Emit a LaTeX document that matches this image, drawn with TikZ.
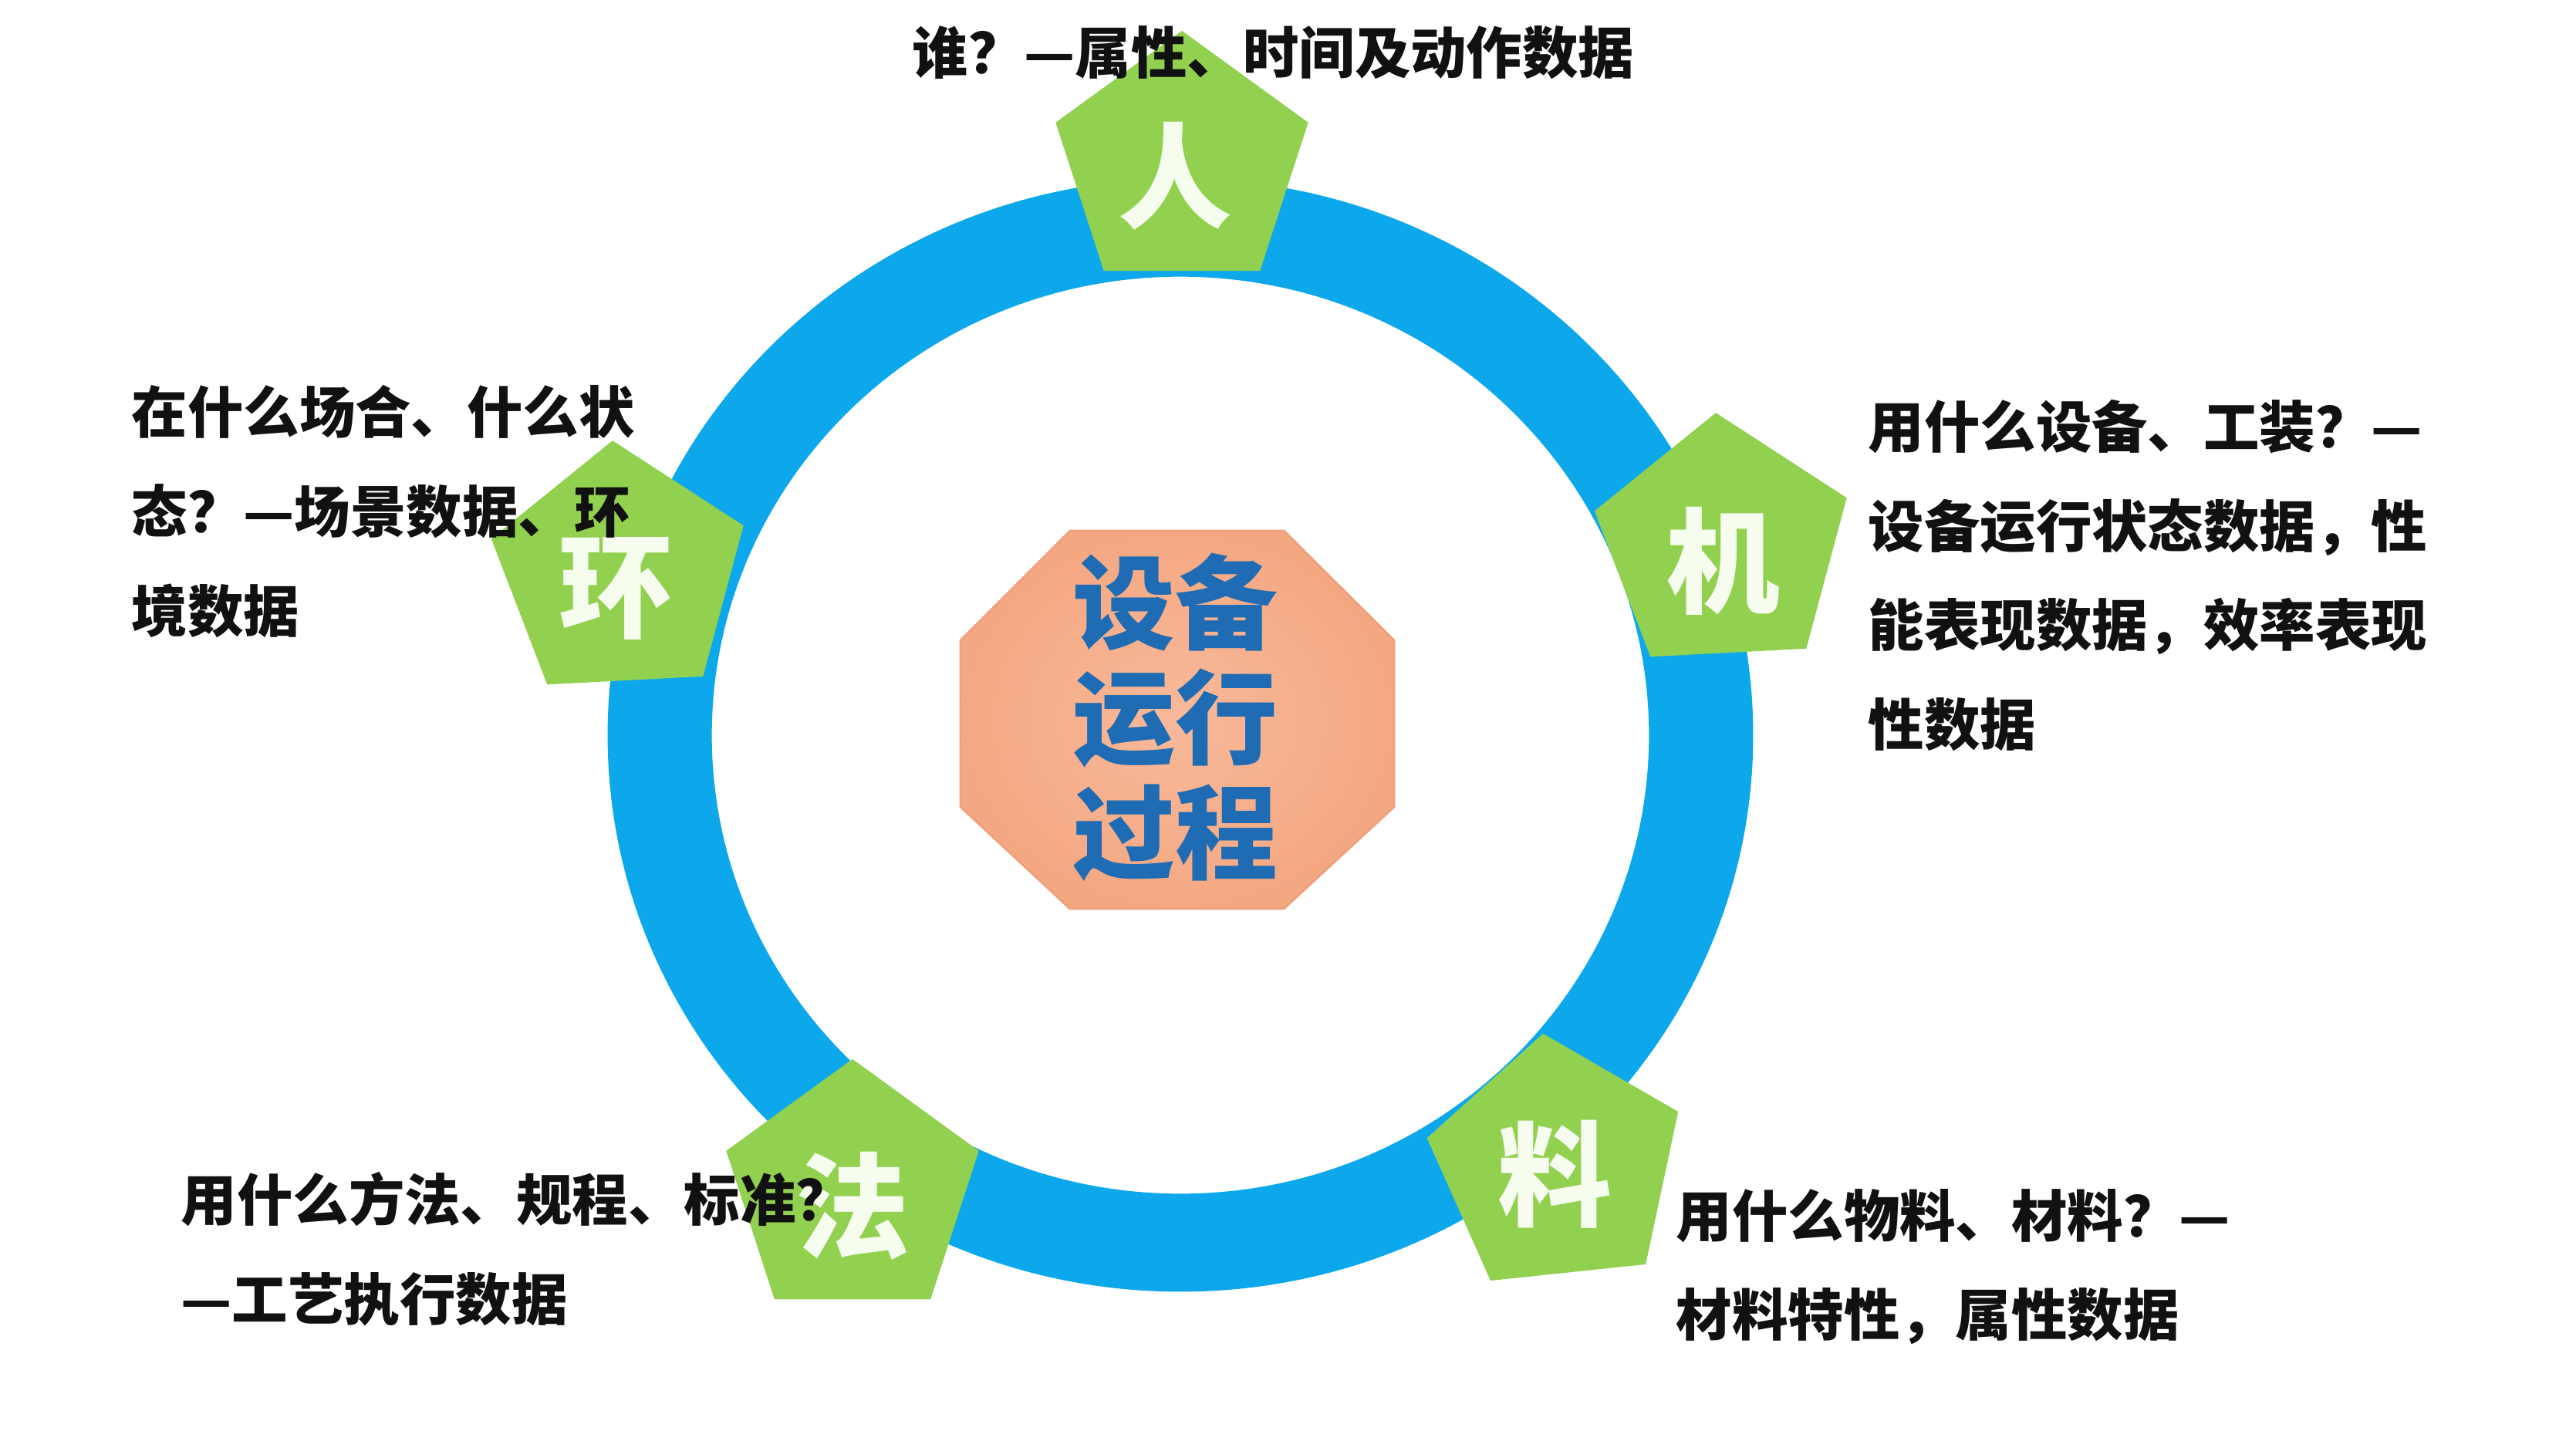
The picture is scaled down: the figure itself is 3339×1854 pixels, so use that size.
\documentclass[tikz,border=0pt]{standalone}
\usepackage{fontspec}
\newfontfamily\cjk{Noto Sans CJK SC}
\usetikzlibrary{shapes.geometric}
\definecolor{ringblue}{HTML}{0CA8EB}
\definecolor{pgreen}{HTML}{92D050}
\definecolor{octfill}{HTML}{F4A882}
\definecolor{octin}{HTML}{F8B99A}
\definecolor{octline}{HTML}{EFA07A}
\definecolor{coreblue}{HTML}{1F6CB4}
\definecolor{charwhite}{HTML}{F6FCEE}
\definecolor{inkblack}{HTML}{111111}
\begin{document}
\begin{tikzpicture}[x=0.01cm, y=-0.01cm,
  pent/.style={regular polygon, regular polygon sides=5, minimum size=3.44cm,
    inner sep=0pt, outer sep=0pt, fill=pgreen, draw=none},
  pchar/.style={font=\cjk\bfseries\fontsize{42pt}{42pt}\selectfont, text=charwhite, inner sep=0pt},
  infotext/.style={font=\cjk\bfseries\fontsize{20.6pt}{36.6pt}\selectfont, text=inkblack,
    align=left, inner sep=0pt, anchor=west},
  coretext/.style={font=\cjk\bfseries\fontsize{37.8pt}{42.4pt}\selectfont, text=coreblue,
    align=center, inner sep=0pt}]
\useasboundingbox (0,0) rectangle (3339,1854);
\fill[white] (0,0) rectangle (3339,1854);
% ring
\coordinate (ringc) at (1530,953);
\fill[ringblue, even odd rule] (ringc) ellipse [x radius=7.42cm, y radius=7.21cm]
  (ringc) ellipse [x radius=6.07cm, y radius=5.94cm];
% central octagon
\shadedraw[inner color=octin, outer color=octfill, draw=octline, line width=0.8pt]
  (1387,688) -- (1664,688) -- (1807,830) -- (1807,1046) -- (1664,1178)
  -- (1387,1178) -- (1245,1046) -- (1245,830) -- cycle;
\node[coretext] (coretxt) at (1523,930) {设备\\运行\\过程};
% pentagons
\node[pent, shape border rotate=0] (renP) at (1532,212) {};
\node[pchar] (ren) at (1523,228) {人};
\node[pent, shape border rotate=3] (jiP) at (2233,707) {};
\node[pchar] (ji) at (2233,727) {机};
\node[pent, shape border rotate=6] (liaoP) at (2018,1511) {};
\node[pchar] (liao) at (2015,1522) {料};
\node[pent, shape border rotate=0] (faP) at (1105,1545) {};
\node[pchar] (fa) at (1105,1563) {法};
\node[pent, shape border rotate=3] (huanP) at (803,743) {};
\node[pchar] (huan) at (798,763) {环};
% info texts
\node[infotext] (topinfo) at (1182,68) {谁？—属性、时间及动作数据};
\node[infotext] (huaninfo) at (170,663) {在什么场合、什么状\\态？—场景数据、环\\境数据};
\node[infotext] (jiinfo) at (2421,746) {用什么设备、工装？—\\设备运行状态数据，性\\能表现数据，效率表现\\性数据};
\node[infotext] (fainfo) at (234,1619) {用什么方法、规程、标准？\\—工艺执行数据};
\node[infotext] (liaoinfo) at (2172,1642) {用什么物料、材料？—\\材料特性，属性数据};
\end{tikzpicture}
\end{document}
